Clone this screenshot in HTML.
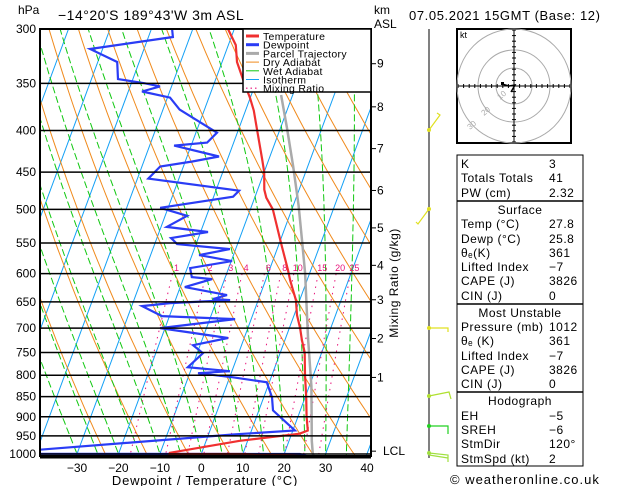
<!DOCTYPE html>
<html><head><meta charset="utf-8"><style>
body{margin:0;background:#fff;width:629px;height:486px;overflow:hidden}
svg{display:block;font-family:"Liberation Sans",sans-serif}
</style></head><body>
<svg id="c" width="629" height="486" viewBox="0 0 629 486"></svg>
<script>
// ---- data ----
const pressureTicks=[300,350,400,450,500,550,600,650,700,750,800,850,900,950,1000];
const tempTicks=[-30,-20,-10,0,10,20,30,40];
const tempP=[300,314,329.4,350,364.3,378,400,434.2,450,473,483.8,500,550,594,611,646.6,674.7,700,724.1,750,800,850,900,935.6,944,963.4,996.6,1000,1000,1005.6,1011];
const tempT=[-31.5,-28.2,-26.4,-22.7,-20.1,-18,-15.4,-11.6,-10,-8.4,-7.2,-4.6,0.4,4.5,5.9,9.1,10.7,12.6,14.1,15.9,18,20.2,22.1,23.6,21.9,8.1,-7.7,-7.7,9.8,23.3,29.0];
const dewP=[300,306.9,317.5,329.4,345.7,349.9,353,358.1,364.3,377,402.4,413.9,417.4,430.5,436.7,442.9,458.3,474.3,482.4,497.8,509.3,525.6,533.2,542.4,545.5,551.7,559.6,569.2,579,590.6,605.8,609.3,623.2,637.5,644.7,646.6,652.1,657.7,676.6,682.3,700,720,734.7,751.7,782,791,795.5,804.6,816.1,851.6,883.7,935.6,946.3,987.9,999.5,1000,1011];
const dewT=[-45,-44.1,-63,-55.3,-53.6,-46.7,-42.8,-46.7,-39.4,-36,-24.9,-26.4,-34.1,-22.3,-28.3,-35.6,-37.4,-14.4,-15.3,-31.9,-24.7,-28.6,-18.2,-26.6,-25.9,-24.6,-11.4,-18.3,-9.8,-19.3,-18.1,-13,-18.9,-8,-11,-6.8,-21,-27.5,-21.8,-3.9,-21.2,-3.9,-11.7,-8.6,-11,-0.5,-8,0.8,9.4,12,13.4,20.5,5.9,-39.4,-45,23.8,27.1];
const parcelP=[361.7,396.6,442.9,494.6,545.5,599,722,825,963.4,999.5,1011];
const parcelT=[-12.8,-8.5,-3.5,1.3,5.2,8.9,15.5,20.5,25.5,26.9,27.7];
const mixRatios=[1,2,3,4,6,8,10,15,20,25];
const dryThetas=[250,260,270,280,290,300,310,320,330,340,350,360,370,380,390,400,410,420,430,440,450,460,470];
const wetT1000=[-30,-25,-20,-15,-10,-5,0,5,10,15,20,25,30,35];
const kmLabels=["9","8","7","6","5","4","3","2","1","LCL"];
const kmPress=[331,374,421,474,527,586,646,721,805,992];

// ---- axes ----
const L=40,R=371,T0=29,B=456;
function yP(p){return 29+353*Math.log(p/300);}
function xT(t,p){return 201.3+4.143*t+0.37*(454-yP(p));}
const NS="http://www.w3.org/2000/svg";
const svg=document.getElementById('c');
function el(tag,attrs,parent){const e=document.createElementNS(NS,tag);for(const k in attrs)e.setAttribute(k,attrs[k]);(parent||svg).appendChild(e);return e;}
function txt(s,x,y,attrs,parent){const e=el('text',Object.assign({x:x,y:y,'font-size':12},attrs||{}),parent);e.textContent=s;return e;}

const defs=el('defs',{});
const cp=el('clipPath',{id:'pc'},defs);
el('rect',{x:L,y:T0,width:R-L,height:B-T0},cp);
const plot=el('g',{'clip-path':'url(#pc)'});



function pathFrom(ps,ts){let d='';for(let i=0;i<ps.length;i++){d+=(i?'L':'M')+xT(ts[i],ps[i]).toFixed(1)+','+yP(ps[i]).toFixed(1);}return d;}

for(let t=-120;t<=40;t+=10){
  const p=el('path',{d:pathFrom([300,1050],[t,t]),stroke:'#13a0f5',fill:'none','stroke-width':1},plot);
  
  
}
dryThetas.forEach(th=>{
  const ps=[],ts=[];
  for(let pp=300;pp<=1050;pp+=10){ps.push(pp);ts.push(th*Math.pow(pp/1000,0.286)-273.15);}
  const p=el('path',{d:pathFrom(ps,ts),stroke:'#f08a1c',fill:'none','stroke-width':1},plot);
  
  
});
function es(tc){return 6.112*Math.exp(17.67*tc/(tc+243.5));}
wetT1000.forEach(t0=>{
  let ps=[],ts=[];
  let Td=t0+273.15;
  for(let q=1000;q<1050;q+=5){const rs=0.622*es(Td-273.15)/(q-es(Td-273.15));const dT=(287*Td+2.5e6*rs)/(q*(1004+2.5e6*2.5e6*rs*0.622/(287*Td*Td)));Td+=dT*5;}
  let Tk=Td;
  for(let q=1050;q>=300;q-=5){
    ps.push(q);ts.push(Tk-273.15);
    const e=es(Tk-273.15);const rs=0.622*e/(q-e);
    const dT=(287*Tk+2.5e6*rs)/(q*(1004+2.5e6*2.5e6*rs*0.622/(287*Tk*Tk)));
    Tk-=dT*5;
  }
  const p=el('path',{d:pathFrom(ps,ts),stroke:'#10c810',fill:'none','stroke-width':1,'stroke-dasharray':'7,3'},plot);
  
  
});
mixRatios.forEach(w=>{
  const ps=[],ts=[];
  for(let pp=600;pp<=1050;pp+=10){const e=w*pp/(622+w);const a=Math.log(e/6.112);ps.push(pp);ts.push(243.5*a/(17.67-a));}
  const p=el('path',{d:pathFrom(ps,ts),stroke:'#e8137a',fill:'none','stroke-width':1,'stroke-dasharray':'1.5,5'},plot);
  
  
  const x=xT(ts[0],600);
  const lb=txt(String(w),x+4,271,{'font-size':9,fill:'#e8137a','text-anchor':'middle'},plot);
  
  
});
pressureTicks.forEach(p=>{
  const l=el('line',{x1:L,x2:R,y1:yP(p),y2:yP(p),stroke:'#000','stroke-width':1.5});
  
  
  const t=txt(String(p),36,yP(p)+4,{'text-anchor':'end','font-size':12});
  
  
});
const par=el('path',{d:pathFrom(parcelP,parcelT),stroke:'#aaa',fill:'none','stroke-width':2.5},plot);


const dw=el('path',{d:pathFrom(dewP,dewT),stroke:'#2a3cf5',fill:'none','stroke-width':2.2},plot);


const tp=el('path',{d:pathFrom(tempP,tempT),stroke:'#f03030',fill:'none','stroke-width':2.2},plot);



const bd=el('rect',{x:L,y:T0,width:R-L,height:B-T0,fill:'none',stroke:'#000','stroke-width':2});


el('line',{x1:L,x2:R,y1:457.5,y2:457.5,stroke:'#000','stroke-width':2});

tempTicks.forEach(t=>{
  const x=201.3+4.143*t;
  const e=txt(t<0?'\u2212'+(-t):String(t),x,472,{'text-anchor':'middle','font-size':12});
  
  
});
const xt=txt('Dewpoint / Temperature (\u00B0C)',205,485,{'text-anchor':'middle','font-size':13,'letter-spacing':'0.8'});



kmLabels.forEach((k,i)=>{
  const y=yP(kmPress[i]);
  el('line',{x1:R,x2:R+5,y1:y,y2:y,stroke:'#000','stroke-width':1});
  const e=txt(k,k==='LCL'?383:377,y+4,{'font-size':12});
  
  
});
const mr=txt('Mixing Ratio (g/kg)',0,0,{'font-size':12,transform:'translate(398,283) rotate(-90)','text-anchor':'middle','letter-spacing':'0.5'});



let e;
e=txt('hPa',18,14,{'font-size':12});
e=txt('\u221214\u00B020\'S  189\u00B043\'W  3m  ASL',58,20,{'font-size':14,'letter-spacing':'0.5'});
e=txt('km',374,14,{'font-size':12});
e=txt('ASL',374,28,{'font-size':12});
e=txt('07.05.2021  15GMT  (Base: 12)',409,20,{'font-size':13,'letter-spacing':'0.6'});
e=txt('\u00A9 weatheronline.co.uk',450,484,{'font-size':13,'letter-spacing':'1'});

const lg=el('g',{});


el('rect',{x:243,y:29,width:128,height:63,fill:'#fff',stroke:'#000','stroke-width':1.5},lg);
const legNames=['Temperature','Dewpoint','Parcel Trajectory','Dry Adiabat','Wet Adiabat','Isotherm','Mixing Ratio'];
const legCols=['#f03030','#2a3cf5','#aaa','#f08a1c','#10c810','#13a0f5','#e8137a'];
const legW=[3,3,3,1,1,1,1.2];
legNames.forEach((n,i)=>{
  const y=36+i*8.7;
  const ln=el('line',{x1:246,x2:259,y1:y,y2:y,stroke:legCols[i],'stroke-width':legW[i],'stroke-dasharray':i===6?'1.5,3':'none'},lg);
  
  
  const t=txt(n,263,y+4,{'font-size':10.5,'letter-spacing':'0.3'},lg);
  
  
});

const wb=el('g',{});


el('line',{x1:429,x2:429,y1:29,y2:458,stroke:'#000','stroke-width':1},wb);
const barbs=[
 ['#e0e020','M429,130 L440,115 L437,113'],
 ['#e0e020','M429,209 L418,224 L416,222'],
 ['#e0e020','M429,328 L448,328 L448,332'],
 ['#b0e030','M429,396 L449,392 L451,399'],
 ['#20d020','M429,426 L448,426 L448,434'],
 ['#a0e040','M429,453 L448,455 L448,462 M429,455 L448,458']
];
barbs.forEach(b=>{
  const p=el('path',{d:b[1],stroke:b[0],fill:'none','stroke-width':1.2},wb);
  
  
  const m=b[1].match(/M(\d+),(\d+)/);
  el('circle',{cx:429,cy:m[2],r:2,fill:b[0]},wb);
});

const hg=el('g',{});


el('rect',{x:457,y:29,width:114,height:114,fill:'#fff',stroke:'#000','stroke-width':2},hg);
[18,36,57].forEach(r=>el('circle',{cx:514,cy:86,r:r,fill:'none',stroke:'#aaa','stroke-width':1},hg));
el('line',{x1:458,x2:570,y1:86,y2:86,stroke:'#000'},hg);
el('line',{x1:514,x2:514,y1:30,y2:142,stroke:'#000'},hg);
for(let i=-10;i<=10;i++){if(!i)continue;const d=i*5.6;
  el('line',{x1:514+d,x2:514+d,y1:84,y2:88,stroke:'#000'},hg);
  el('line',{x1:512,x2:516,y1:86+d,y2:86+d,stroke:'#000'},hg);}
txt('kt',460,38,{'font-size':9},hg);
el('path',{d:'M502,84 L509,86 L515,85 L511,92',stroke:'#000',fill:'none','stroke-width':1.5},hg);
el('rect',{x:501,y:82,width:3,height:3,fill:'#000'},hg);
txt('10',500,100,{'font-size':8,fill:'#aaa',transform:'rotate(-40 500 100)'},hg);
txt('20',484,116,{'font-size':8,fill:'#aaa',transform:'rotate(-40 484 116)'},hg);
txt('30',470,130,{'font-size':8,fill:'#aaa',transform:'rotate(-40 470 130)'},hg);

const tb=el('g',{});


el('rect',{x:457,y:155,width:126,height:311,fill:'#fff',stroke:'#000','stroke-width':1},tb);
[201,304,392].forEach(y=>el('line',{x1:457,x2:583,y1:y,y2:y,stroke:'#000','stroke-width':1.5},tb));
const rows=[
 [164,'K','3'],[178,'Totals Totals','41'],[193,'PW (cm)','2.32'],
 [210,'#Surface',''],[224,'Temp (\u00B0C)','27.8'],[239,'Dewp (\u00B0C)','25.8'],[253,'\u03B8\u2091(K)','361'],[267,'Lifted Index','\u22127'],[281,'CAPE (J)','3826'],[296,'CIN (J)','0'],
 [313,'#Most Unstable',''],[327,'Pressure (mb)','1012'],[341,'\u03B8\u2091 (K)','361'],[356,'Lifted Index','\u22127'],[370,'CAPE (J)','3826'],[384,'CIN (J)','0'],
 [401,'#Hodograph',''],[416,'EH','\u22125'],[430,'SREH','\u22126'],[444,'StmDir','120\u00B0'],[459,'StmSpd (kt)','2']
];
rows.forEach(r=>{
  if(r[1][0]==='#'){const t=txt(r[1].slice(1),520,r[0]+4,{'font-size':12,'text-anchor':'middle','letter-spacing':'0.5'},tb);
    return;}
  const a=txt(r[1],461,r[0]+4,{'font-size':12,'letter-spacing':'0.5'},tb);
  
  const b=txt(r[2],549,r[0]+4,{'font-size':12,'letter-spacing':'0.5'},tb);
  
});
</script>
</body></html>
